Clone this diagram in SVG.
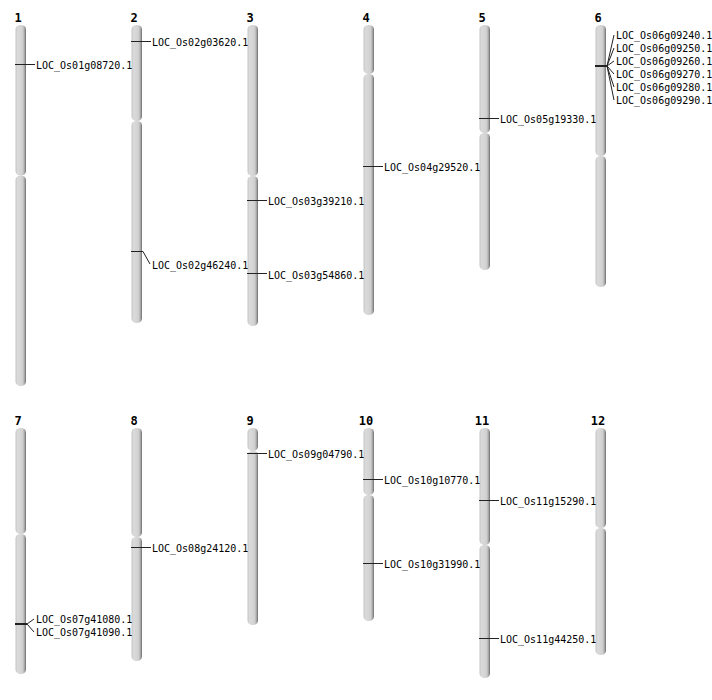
<svg xmlns="http://www.w3.org/2000/svg" width="712" height="700" viewBox="0 0 712 700">
<defs>
<linearGradient id="chrom" x1="0" y1="0" x2="1" y2="0">
<stop offset="0" stop-color="#c4c4c4"/>
<stop offset="0.2" stop-color="#dadada"/>
<stop offset="0.65" stop-color="#d2d2d2"/>
<stop offset="0.82" stop-color="#b4b4b4"/>
<stop offset="1" stop-color="#6e6e6e"/>
</linearGradient>
</defs>
<style>
.arm{fill:url(#chrom);}
.num{font-family:"DejaVu Sans Mono","Liberation Mono",monospace;font-weight:bold;font-size:12px;fill:#000;text-anchor:middle;}
.lab{font-family:"DejaVu Sans Mono","Liberation Mono",monospace;font-size:10px;fill:#000;}
.mk{fill:none;stroke:#222;stroke-width:1;}
</style>
<rect width="712" height="700" fill="#fff"/>
<g id="chr1"><text class="num" x="18" y="22">1</text><rect class="arm" x="15.5" y="25" width="10.5" height="150.5" rx="5" ry="4.5"/><rect class="arm" x="15.5" y="175.5" width="10.5" height="210.5" rx="5" ry="4.5"/></g>
<g id="chr2"><text class="num" x="134" y="22">2</text><rect class="arm" x="131.5" y="25" width="10.5" height="96" rx="5" ry="4.5"/><rect class="arm" x="131.5" y="121" width="10.5" height="202" rx="5" ry="4.5"/></g>
<g id="chr3"><text class="num" x="250" y="22">3</text><rect class="arm" x="247.5" y="25" width="10.5" height="151" rx="5" ry="4.5"/><rect class="arm" x="247.5" y="176" width="10.5" height="150" rx="5" ry="4.5"/></g>
<g id="chr4"><text class="num" x="366" y="22">4</text><rect class="arm" x="363.5" y="25" width="10.5" height="49" rx="5" ry="4.5"/><rect class="arm" x="363.5" y="74" width="10.5" height="241" rx="5" ry="4.5"/></g>
<g id="chr5"><text class="num" x="482" y="22">5</text><rect class="arm" x="479.5" y="25" width="10.5" height="108" rx="5" ry="4.5"/><rect class="arm" x="479.5" y="133" width="10.5" height="137" rx="5" ry="4.5"/></g>
<g id="chr6"><text class="num" x="598" y="22">6</text><rect class="arm" x="595.5" y="25" width="10.5" height="131" rx="5" ry="4.5"/><rect class="arm" x="595.5" y="156" width="10.5" height="131" rx="5" ry="4.5"/></g>
<g id="chr7"><text class="num" x="18" y="425">7</text><rect class="arm" x="15.5" y="428" width="10.5" height="106" rx="5" ry="4.5"/><rect class="arm" x="15.5" y="534" width="10.5" height="140" rx="5" ry="4.5"/></g>
<g id="chr8"><text class="num" x="134" y="425">8</text><rect class="arm" x="131.5" y="428" width="10.5" height="109" rx="5" ry="4.5"/><rect class="arm" x="131.5" y="537" width="10.5" height="124" rx="5" ry="4.5"/></g>
<g id="chr9"><text class="num" x="250" y="425">9</text><rect class="arm" x="247.5" y="428" width="10.5" height="23" rx="5" ry="4.5"/><rect class="arm" x="247.5" y="451" width="10.5" height="174" rx="5" ry="4.5"/></g>
<g id="chr10"><text class="num" x="366" y="425">10</text><rect class="arm" x="363.5" y="428" width="10.5" height="67" rx="5" ry="4.5"/><rect class="arm" x="363.5" y="495" width="10.5" height="126" rx="5" ry="4.5"/></g>
<g id="chr11"><text class="num" x="482" y="425">11</text><rect class="arm" x="479.5" y="428" width="10.5" height="117" rx="5" ry="4.5"/><rect class="arm" x="479.5" y="545" width="10.5" height="133" rx="5" ry="4.5"/></g>
<g id="chr12"><text class="num" x="598" y="425">12</text><rect class="arm" x="595.5" y="428" width="10.5" height="100" rx="5" ry="4.5"/><rect class="arm" x="595.5" y="528" width="10.5" height="127" rx="5" ry="4.5"/></g>
<g id="connectors">
<path class="mk" d="M15 64.5H35"/>
<path class="mk" d="M131 41.5H151"/>
<path class="mk" d="M131 251.5H143L150 264"/>
<path class="mk" d="M247 200.5H267"/>
<path class="mk" d="M247 273.5H267"/>
<path class="mk" d="M363 166.5H383"/>
<path class="mk" d="M479 118.5H499"/>
<path class="mk" d="M595 66H607" style="stroke-width:2"/>
<path class="mk" d="M607 66L614 35M607 66L614 48M607 66L614 61M607 66L614 74M607 66L614 87M607 66L614 100"/>
<path class="mk" d="M15 624H27" style="stroke-width:2"/>
<path class="mk" d="M27 624L34 619M27 624L34 632"/>
<path class="mk" d="M131 547.5H151"/>
<path class="mk" d="M247 453.5H267"/>
<path class="mk" d="M363 479.5H383"/>
<path class="mk" d="M363 563.5H383"/>
<path class="mk" d="M479 500.5H499"/>
<path class="mk" d="M479 638.5H499"/>
</g>
<g id="labels">
<text class="lab" x="36" y="68.5">LOC_Os01g08720.1</text>
<text class="lab" x="152" y="45.5">LOC_Os02g03620.1</text>
<text class="lab" x="152" y="268.5">LOC_Os02g46240.1</text>
<text class="lab" x="268" y="204.5">LOC_Os03g39210.1</text>
<text class="lab" x="268" y="278.5">LOC_Os03g54860.1</text>
<text class="lab" x="384" y="170.5">LOC_Os04g29520.1</text>
<text class="lab" x="500" y="122.5">LOC_Os05g19330.1</text>
<text class="lab" x="616" y="38.5">LOC_Os06g09240.1</text>
<text class="lab" x="616" y="51.5">LOC_Os06g09250.1</text>
<text class="lab" x="616" y="64.5">LOC_Os06g09260.1</text>
<text class="lab" x="616" y="77.5">LOC_Os06g09270.1</text>
<text class="lab" x="616" y="90.5">LOC_Os06g09280.1</text>
<text class="lab" x="616" y="103.5">LOC_Os06g09290.1</text>
<text class="lab" x="36" y="622.5">LOC_Os07g41080.1</text>
<text class="lab" x="36" y="635.5">LOC_Os07g41090.1</text>
<text class="lab" x="152" y="551.5">LOC_Os08g24120.1</text>
<text class="lab" x="268" y="457.5">LOC_Os09g04790.1</text>
<text class="lab" x="384" y="483.5">LOC_Os10g10770.1</text>
<text class="lab" x="384" y="567.5">LOC_Os10g31990.1</text>
<text class="lab" x="500" y="504.5">LOC_Os11g15290.1</text>
<text class="lab" x="500" y="642.5">LOC_Os11g44250.1</text>
</g>
</svg>
